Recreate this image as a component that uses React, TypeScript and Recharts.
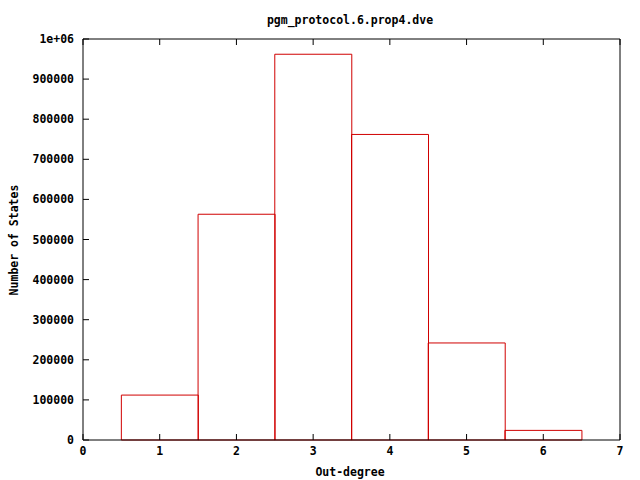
import { BarChart, Bar, XAxis, YAxis } from 'recharts';

const degrees = [1, 2, 3, 4, 5, 6];
const stateCounts = [112000, 563000, 962000, 762000, 242000, 24000];
const xTicks = [0, 1, 2, 3, 4, 5, 6, 7];
const yTicks = [0, 100000, 200000, 300000, 400000, 500000, 600000, 700000, 800000, 900000, 1000000];

const title = 'pgm_protocol.6.prop4.dve';
const xLabel = 'Out-degree';
const yLabel = 'Number of States';

const data = degrees.map((d, i) => ({ degree: d, states: stateCounts[i] }));

const FONT = "'DejaVu Sans Mono', monospace";
const textStyle = { fill: '#000', fontSize: 11.5, fontWeight: 'bold' as const, fontFamily: FONT };
const BLACK = { stroke: '#000', strokeWidth: 1 };

const fmtY = (v: number) => (v >= 1000000 ? '1e+06' : String(v));
const blank = () => '';

export default function App() {
  return (
    <div style={{ position: 'relative', width: 640, height: 480, background: '#fff' }}>
      <style>{'body{margin:0}'}</style>
      <BarChart
        width={640}
        height={480}
        data={data}
        barCategoryGap={0}
        margin={{ top: 38, right: 19, bottom: 10, left: 23 }}
      >
        <XAxis
          xAxisId="bottom"
          dataKey="degree"
          type="number"
          domain={[0, 7]}
          ticks={xTicks}
          interval={0}
          height={30}
          tickSize={-6}
          tickMargin={13}
          axisLine={BLACK}
          tickLine={BLACK}
          tick={textStyle}
        />
        <XAxis
          xAxisId="top"
          orientation="top"
          dataKey="degree"
          type="number"
          domain={[0, 7]}
          ticks={xTicks}
          interval={0}
          height={1}
          tickSize={-6}
          axisLine={BLACK}
          tickLine={BLACK}
          tickFormatter={blank}
        />
        <YAxis
          yAxisId="left"
          type="number"
          domain={[0, 1000000]}
          ticks={yTicks}
          interval={0}
          width={60}
          tickSize={-6}
          tickMargin={15}
          axisLine={BLACK}
          tickLine={BLACK}
          tick={textStyle}
          tickFormatter={fmtY}
        />
        <YAxis
          yAxisId="right"
          orientation="right"
          type="number"
          domain={[0, 1000000]}
          ticks={yTicks}
          interval={0}
          width={1}
          tickSize={-6}
          axisLine={BLACK}
          tickLine={BLACK}
          tickFormatter={blank}
        />
        <Bar
          xAxisId="bottom"
          yAxisId="left"
          dataKey="states"
          fill="none"
          stroke="#d00000"
          strokeWidth={1}
          isAnimationActive={false}
        />
      </BarChart>
      <svg width={640} height={480} style={{ position: 'absolute', left: 0, top: 0, pointerEvents: 'none' }}>
        <text x={350} y={24} textAnchor="middle" style={textStyle}>{title}</text>
        <text x={350} y={476} textAnchor="middle" style={textStyle}>{xLabel}</text>
        <text x={18} y={240} textAnchor="middle" transform="rotate(-90 18 240)" style={textStyle}>{yLabel}</text>
      </svg>
    </div>
  );
}
